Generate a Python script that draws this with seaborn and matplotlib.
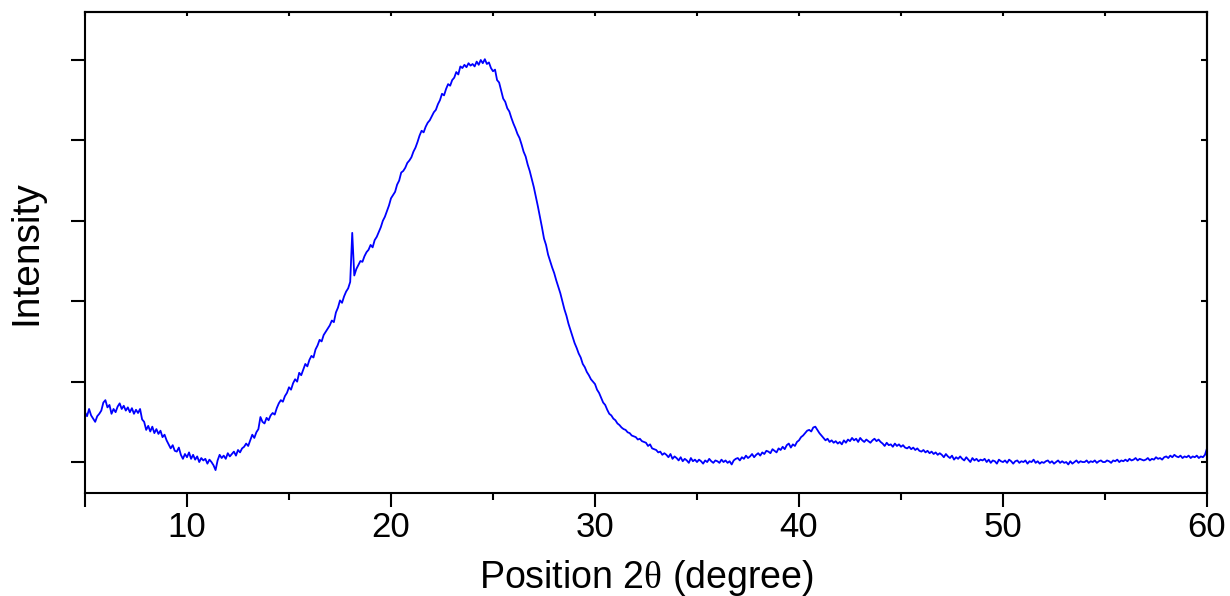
import numpy as np
import pandas as pd
import matplotlib
matplotlib.use("Agg")
import matplotlib.pyplot as plt
from matplotlib.ticker import FixedLocator, NullFormatter
import seaborn as sns

# Scan grid: 2-theta from 5 to 60 degrees in 0.1 degree steps
two_theta_start = 5.0
two_theta_step = 0.1

# Measured intensity (arbitrary units), one row per degree
intensity = [
    0.62, 0.57, 0.66, 0.58, 0.54, 0.50, 0.57, 0.60, 0.64, 0.74,   # 5
    0.77, 0.68, 0.71, 0.60, 0.66, 0.62, 0.69, 0.73, 0.66, 0.70,   # 6
    0.64, 0.68, 0.62, 0.67, 0.60, 0.65, 0.61, 0.66, 0.53, 0.50,   # 7
    0.40, 0.45, 0.38, 0.44, 0.36, 0.41, 0.35, 0.39, 0.31, 0.34,   # 8
    0.27, 0.22, 0.17, 0.21, 0.14, 0.13, 0.18, 0.09, 0.04, 0.10,   # 9
    0.06, 0.12, 0.04, 0.09, 0.03, 0.07, 0.00, 0.05, 0.02, 0.04,   # 10
    -0.02, 0.03, 0.00, -0.04, -0.10, 0.02, 0.09, 0.05, 0.08, 0.04,  # 11
    0.11, 0.07, 0.10, 0.13, 0.08, 0.15, 0.12, 0.17, 0.19, 0.23,   # 12
    0.20, 0.27, 0.34, 0.30, 0.37, 0.41, 0.56, 0.50, 0.48, 0.55,   # 13
    0.52, 0.58, 0.61, 0.59, 0.67, 0.73, 0.77, 0.75, 0.82, 0.86,   # 14
    0.93, 0.90, 0.98, 1.03, 1.00, 1.11, 1.08, 1.15, 1.22, 1.19,   # 15
    1.27, 1.32, 1.30, 1.40, 1.45, 1.52, 1.50, 1.58, 1.62, 1.66,   # 16
    1.70, 1.76, 1.74, 1.86, 1.92, 2.01, 1.98, 2.06, 2.12, 2.16,   # 17
    2.24, 2.85, 2.32, 2.40, 2.45, 2.50, 2.49, 2.56, 2.61, 2.64,   # 18
    2.70, 2.67, 2.76, 2.80, 2.86, 2.92, 3.00, 3.05, 3.12, 3.19,   # 19
    3.28, 3.32, 3.36, 3.45, 3.50, 3.60, 3.62, 3.66, 3.72, 3.75,   # 20
    3.79, 3.86, 3.91, 3.98, 4.06, 4.12, 4.10, 4.17, 4.22, 4.25,   # 21
    4.30, 4.35, 4.38, 4.45, 4.50, 4.58, 4.56, 4.64, 4.70, 4.68,   # 22
    4.75, 4.78, 4.85, 4.82, 4.92, 4.90, 4.94, 4.91, 4.96, 4.93,   # 23
    4.95, 4.92, 4.98, 4.94, 5.00, 4.96, 5.01, 4.95, 4.97, 4.90,   # 24
    4.86, 4.88, 4.75, 4.72, 4.62, 4.52, 4.48, 4.40, 4.36, 4.28,   # 25
    4.21, 4.15, 4.08, 4.03, 3.95, 3.86, 3.80, 3.70, 3.62, 3.52,   # 26
    3.42, 3.30, 3.18, 3.05, 2.92, 2.78, 2.70, 2.58, 2.50, 2.42,   # 27
    2.35, 2.26, 2.18, 2.10, 2.00, 1.90, 1.82, 1.72, 1.64, 1.56,   # 28
    1.48, 1.42, 1.35, 1.30, 1.22, 1.18, 1.12, 1.08, 1.03, 1.00,   # 29
    0.97, 0.90, 0.86, 0.80, 0.74, 0.71, 0.65, 0.60, 0.58, 0.54,   # 30
    0.52, 0.48, 0.46, 0.43, 0.41, 0.40, 0.37, 0.36, 0.33, 0.32,   # 31
    0.31, 0.28, 0.29, 0.26, 0.25, 0.24, 0.20, 0.22, 0.17, 0.16,   # 32
    0.15, 0.12, 0.13, 0.09, 0.11, 0.09, 0.06, 0.10, 0.04, 0.07,   # 33
    0.05, 0.02, 0.06, 0.01, 0.04, 0.02, -0.01, 0.05, 0.01, 0.03,  # 34
    0.00, 0.03, 0.01, -0.02, 0.02, 0.00, 0.04, 0.01, -0.01, 0.02,  # 35
    0.01, -0.01, 0.03, 0.00, 0.02, -0.01, 0.01, -0.03, 0.02, 0.04,  # 36
    0.05, 0.02, 0.06, 0.04, 0.08, 0.05, 0.07, 0.10, 0.06, 0.09,   # 37
    0.11, 0.08, 0.12, 0.10, 0.14, 0.13, 0.11, 0.16, 0.14, 0.12,   # 38
    0.17, 0.15, 0.19, 0.16, 0.21, 0.23, 0.18, 0.22, 0.20, 0.25,   # 39
    0.27, 0.31, 0.33, 0.36, 0.39, 0.40, 0.38, 0.43, 0.44, 0.40,   # 40
    0.36, 0.33, 0.30, 0.27, 0.29, 0.25, 0.27, 0.24, 0.26, 0.23,   # 41
    0.25, 0.22, 0.27, 0.24, 0.28, 0.26, 0.30, 0.27, 0.29, 0.25,   # 42
    0.30, 0.27, 0.25, 0.28, 0.26, 0.24, 0.27, 0.29, 0.26, 0.28,   # 43
    0.25, 0.23, 0.20, 0.24, 0.21, 0.22, 0.19, 0.23, 0.20, 0.22,   # 44
    0.19, 0.21, 0.18, 0.17, 0.19, 0.16, 0.18, 0.15, 0.17, 0.14,   # 45
    0.13, 0.15, 0.12, 0.14, 0.11, 0.13, 0.10, 0.12, 0.09, 0.11,   # 46
    0.09, 0.06, 0.10, 0.07, 0.05, 0.08, 0.03, 0.06, 0.04, 0.07,   # 47
    0.04, 0.02, 0.06, 0.03, 0.00, 0.05, 0.02, 0.04, 0.01, 0.03,   # 48
    0.02, 0.04, 0.00, 0.03, -0.01, 0.02, 0.01, -0.02, 0.03, 0.01,  # 49
    0.00, 0.02, -0.01, 0.03, 0.01, -0.02, 0.01, 0.02, -0.01, 0.01,  # 50
    0.00, 0.02, -0.02, 0.01, 0.00, 0.03, -0.01, 0.01, -0.02, 0.00,  # 51
    -0.01, 0.01, 0.02, -0.01, 0.01, -0.02, 0.00, 0.02, -0.01, 0.01,  # 52
    -0.01, 0.00, -0.03, 0.01, -0.02, 0.00, 0.02, -0.01, 0.01, 0.00,  # 53
    0.00, 0.02, -0.01, 0.01, 0.00, 0.02, -0.01, 0.01, 0.02, 0.00,  # 54
    0.00, 0.02, 0.01, -0.01, 0.02, 0.01, 0.03, 0.00, 0.02, 0.01,   # 55
    0.03, 0.01, 0.04, 0.02, 0.03, 0.05, 0.02, 0.04, 0.03, 0.02,   # 56
    0.03, 0.05, 0.02, 0.04, 0.03, 0.06, 0.04, 0.05, 0.03, 0.06,   # 57
    0.07, 0.05, 0.08, 0.06, 0.09, 0.07, 0.06, 0.08, 0.05, 0.07,   # 58
    0.06, 0.08, 0.05, 0.07, 0.06, 0.08, 0.05, 0.07, 0.06, 0.09,   # 59
    0.17,                                                         # 60
]

x_major_ticks = [5, 10, 20, 30, 40, 50, 60]
x_tick_labels = ["", "10", "20", "30", "40", "50", "60"]
x_minor_ticks = [15, 25, 35, 45, 55]
y_ticks = [0, 1, 2, 3, 4, 5]

two_theta = np.round(two_theta_start + two_theta_step * np.arange(len(intensity)), 1)
df = pd.DataFrame({"two_theta": two_theta, "intensity": intensity})

sns.set_style("ticks")
plt.rcParams["font.family"] = ["Liberation Sans", "DejaVu Sans"]
plt.rcParams["mathtext.fontset"] = "custom"
plt.rcParams["mathtext.rm"] = "Liberation Serif"
plt.rcParams["text.color"] = "black"
plt.rcParams["axes.labelcolor"] = "black"
plt.rcParams["xtick.color"] = "black"
plt.rcParams["ytick.color"] = "black"

fig = plt.figure(figsize=(12.3, 5.96), dpi=100)
ax = fig.add_axes([0.0691, 0.1728, 0.9122, 0.8071])

sns.lineplot(data=df, x="two_theta", y="intensity", color="#0000ff",
             linewidth=1.3, ax=ax, estimator=None, sort=False)

ax.set_xlim(5, 60)
ax.set_ylim(-0.385, 5.597)

for side in ["left", "right", "top", "bottom"]:
    ax.spines[side].set_visible(True)
    ax.spines[side].set_linewidth(1.5)
    ax.spines[side].set_color("black")

ax.xaxis.set_major_locator(FixedLocator(x_major_ticks))
ax.set_xticklabels(x_tick_labels)
ax.xaxis.set_minor_locator(FixedLocator(x_minor_ticks))
ax.set_yticks(y_ticks)
ax.yaxis.set_major_formatter(NullFormatter())

ax.tick_params(axis="x", which="major", direction="out", length=10, width=1.5,
               labelsize=25, pad=3, colors="black")
ax.tick_params(axis="x", which="minor", direction="out", length=5, width=1.5)
ax.tick_params(axis="y", which="major", direction="out", length=10, width=1.5)

# Short inward ticks along the top and right frame
top = ax.secondary_xaxis("top")
top.set_xticks(x_major_ticks + x_minor_ticks)
top.xaxis.set_major_formatter(NullFormatter())
top.tick_params(direction="in", length=3, width=1.5)
top.spines["top"].set_linewidth(1.5)
right = ax.secondary_yaxis("right")
right.set_yticks(y_ticks)
right.yaxis.set_major_formatter(NullFormatter())
right.tick_params(direction="in", length=4, width=1.5)
right.spines["right"].set_linewidth(1.5)

ax.set_xlabel(r"Position 2$\mathrm{\theta}$ (degree)", fontsize=27, labelpad=10,
              color="black")
ax.set_ylabel("Intensity", fontsize=28, labelpad=16, color="black")

fig.savefig("out.png", dpi=100)
